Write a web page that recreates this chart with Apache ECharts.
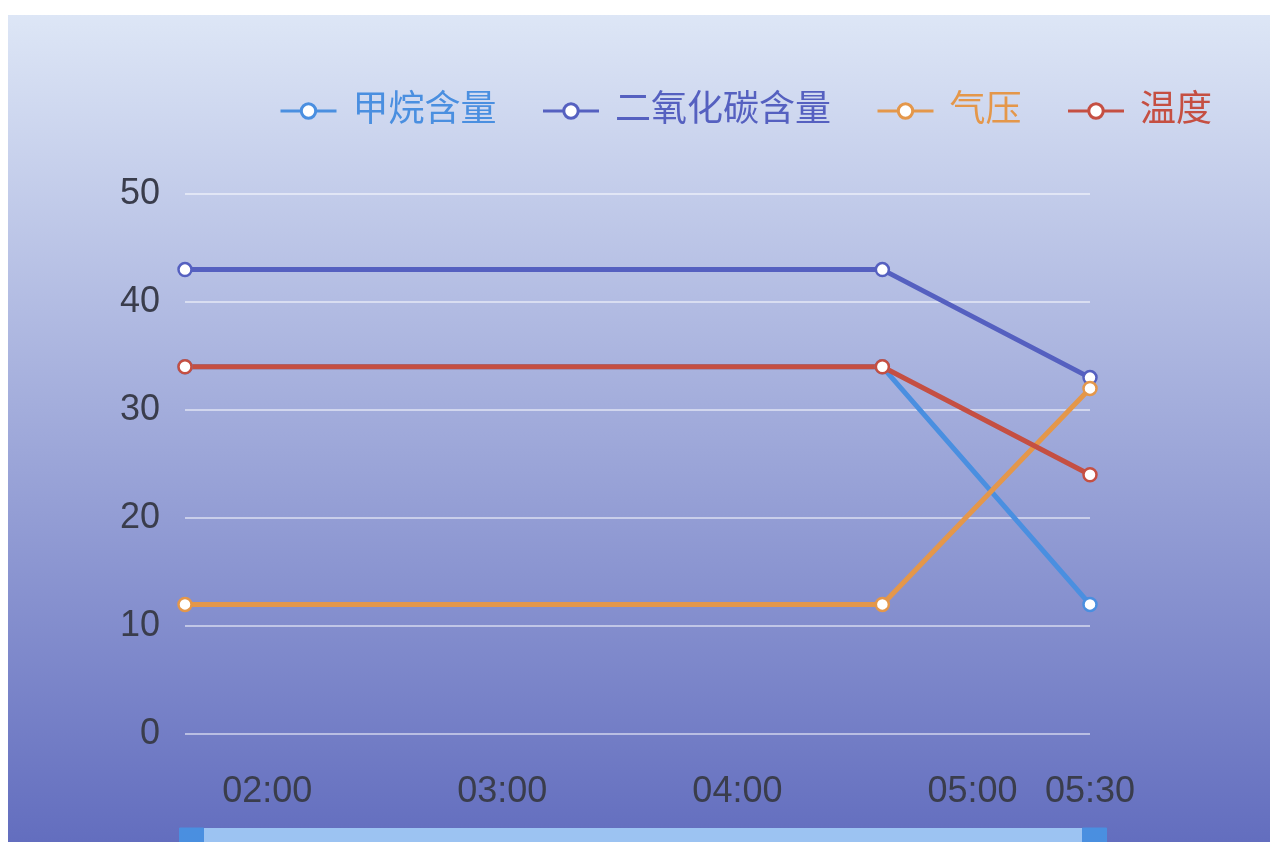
<!DOCTYPE html>
<html>
<head>
<meta charset="UTF-8">
<title>监测数据</title>
<script src="https://cdn.jsdelivr.net/npm/echarts@6/dist/echarts.min.js"></script>
<style>
  html, body { margin: 0; padding: 0; background: #fff; overflow: hidden; }
  #main { position: absolute; left: 8px; top: 15px; width: 1262px; height: 880px; }
</style>
</head>
<body>
<div id="main"></div>
<script>
// 数据
var times = ['01:39', '04:37', '05:30'];
var methane = [34, 34, 12];      // 甲烷含量
var co2 = [43, 43, 33];          // 二氧化碳含量
var pressure = [12, 12, 32];     // 气压
var temperature = [34, 34, 24];  // 温度
var xTickLabels = ['02:00', '03:00', '04:00', '05:00', '05:30'];

function toMin(s) {
  var p = s.split(':');
  return +p[0] * 60 + +p[1];
}
function fmt(v) {
  var h = Math.floor(v / 60), m = Math.round(v % 60);
  return (h < 10 ? '0' : '') + h + ':' + (m < 10 ? '0' : '') + m;
}
function pairs(vals) {
  return times.map(function (t, i) { return [toMin(t), vals[i]]; });
}

var font = '"Liberation Sans", "Noto Sans CJK SC", sans-serif';
var myChart = echarts.init(document.getElementById('main'));

function lineSeries(name, color, vals) {
  return {
    name: name,
    type: 'line',
    data: pairs(vals),
    symbol: 'circle',
    symbolSize: 13,
    showSymbol: true,
    itemStyle: { color: '#fff', borderColor: color, borderWidth: 2.5 },
    lineStyle: { color: color, width: 5 },
    emphasis: { disabled: true }
  };
}

var option = {
  backgroundColor: new echarts.graphic.LinearGradient(0, 0, 0, 1, [
    { offset: 0, color: '#dde6f6' },
    { offset: 1, color: '#5b66bb' }
  ]),
  animation: false,
  legend: {
    left: 266,
    top: 71,
    itemWidth: 56,
    itemHeight: 18,
    itemGap: 45,
    lineStyle: { width: 3 },
    itemStyle: { borderWidth: 3 },
    textStyle: { fontSize: 36, fontFamily: font, lineHeight: 40, padding: [0, 0, 0, 11] },
    data: [
      { name: '甲烷含量', textStyle: { color: '#4a8fe0' } },
      { name: '二氧化碳含量', textStyle: { color: '#5560c0' } },
      { name: '气压', textStyle: { color: '#e4974a' } },
      { name: '温度', textStyle: { color: '#c54f42' } }
    ]
  },
  grid: { left: 177, right: 180, top: 179, bottom: 161, containLabel: false },
  xAxis: {
    type: 'value',
    min: 'dataMin',
    max: 'dataMax',
    axisLine: { show: false },
    axisTick: { show: false },
    splitLine: { show: false },
    axisLabel: {
      customValues: xTickLabels.map(toMin),
      formatter: function (v) { return fmt(v); },
      color: '#3a3d4c',
      fontSize: 36,
      fontFamily: font,
      margin: 40
    }
  },
  yAxis: {
    type: 'value',
    min: 0,
    max: 50,
    interval: 10,
    axisLine: { show: false },
    axisTick: { show: false },
    axisLabel: { color: '#3a3d4c', fontSize: 36, fontFamily: font, margin: 25 },
    splitLine: { lineStyle: { color: 'rgba(255,255,255,0.5)', width: 2 } }
  },
  dataZoom: [{
    type: 'slider',
    xAxisIndex: 0,
    left: 180,
    right: 177,
    top: 813,
    height: 40,
    showDetail: false,
    brushSelect: false,
    moveHandleSize: 0,
    borderColor: 'transparent',
    backgroundColor: 'transparent',
    fillerColor: '#9cc3f2',
    dataBackground: { lineStyle: { opacity: 0 }, areaStyle: { opacity: 0 } },
    selectedDataBackground: { lineStyle: { opacity: 0 }, areaStyle: { opacity: 0 } },
    handleIcon: 'path://M0,0h24v40h-24z M9,6v10h2v-10z M13,6v10h2v-10z',
    handleSize: '100%',
    handleStyle: { color: '#4a8fe0', borderColor: '#4a8fe0' }
  }],
  series: [
    lineSeries('甲烷含量', '#4a8fe0', methane),
    lineSeries('二氧化碳含量', '#5560c0', co2),
    lineSeries('气压', '#e4974a', pressure),
    lineSeries('温度', '#c54f42', temperature)
  ]
};

myChart.setOption(option);
</script>
</body>
</html>
